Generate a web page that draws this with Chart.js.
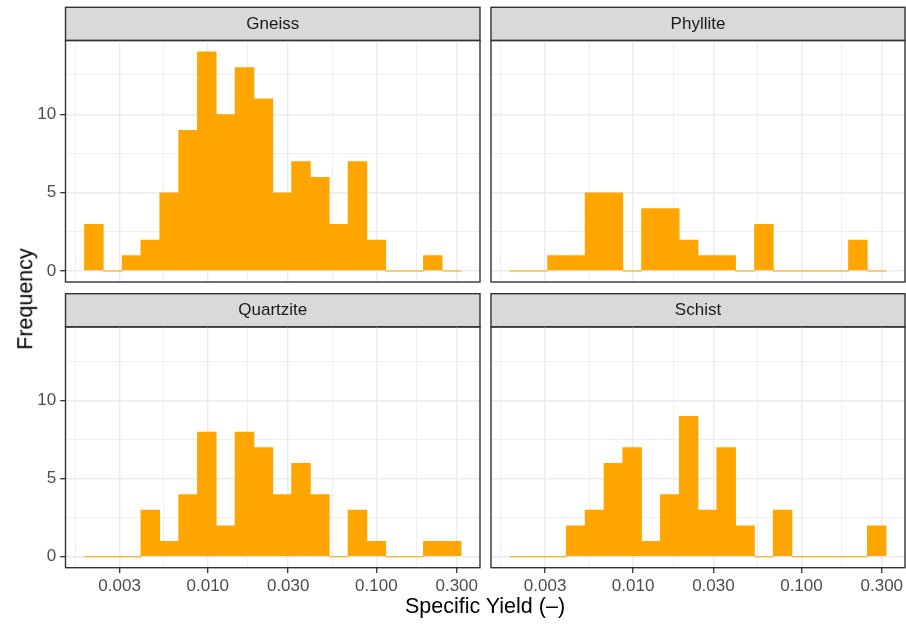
<!DOCTYPE html>
<html>
<head>
<meta charset="utf-8">
<script src="https://cdn.jsdelivr.net/npm/chart.js@4.4.1/dist/chart.umd.min.js"></script>
<style>
  body { margin: 0; width: 906px; height: 624px; position: relative; overflow: hidden; background: #fff;
         font-family: 'Liberation Sans', Arial, sans-serif; }
  canvas { position: absolute; }
  .ttl { position: absolute; color: #000; font-size: 21.5px; line-height: 1; white-space: nowrap; }
  #xTitle { left: 485px; top: 595.6px; transform: translate(-50%, 0); }
  #yTitle { left: 26px; top: 299px; transform: translate(-50%, -50%) rotate(-90deg); }
</style>
</head>
<body>
<canvas id="cGneiss" width="486" height="288" style="left:0;top:0"></canvas>
<canvas id="cPhyllite" width="420" height="288" style="left:486px;top:0"></canvas>
<canvas id="cQuartzite" width="486" height="337" style="left:0;top:287px"></canvas>
<canvas id="cSchist" width="420" height="337" style="left:486px;top:287px"></canvas>
<div class="ttl" id="xTitle">Specific Yield (–)</div>
<div class="ttl" id="yTitle">Frequency</div>

<script>
// ── Data (bin centres in specific yield, counts per facet) ────
const binCenters = [0.00211, 0.00273, 0.00353, 0.00456, 0.00590, 0.00764, 0.00987, 0.01276, 0.01652, 0.02138,
                    0.02761, 0.03573, 0.04624, 0.05984, 0.07727, 0.1000, 0.1294, 0.1675, 0.2163, 0.2799];
const gneiss    = [3, 0, 1, 2, 5, 9, 14, 10, 13, 11, 5, 7, 6, 3, 7, 2, 0, 0, 1, 0];
const phyllite  = [0, 0, 1, 1, 5, 5, 0, 4, 4, 2, 1, 1, 0, 3, 0, 0, 0, 0, 2, 0];
const quartzite = [0, 0, 0, 3, 1, 4, 8, 2, 8, 7, 4, 6, 4, 0, 3, 1, 0, 0, 1, 1];
const schist    = [0, 0, 0, 2, 3, 6, 7, 1, 4, 9, 3, 7, 2, 0, 3, 0, 0, 0, 0, 2];

const xTicks = [0.003, 0.01, 0.03, 0.1, 0.3];
const xMinor = [0.00164, 0.00548, 0.0173, 0.0548, 0.173];
const yTicks = [0, 5, 10];
const yMinor = [2.5, 7.5, 12.5];

const X_MIN = 0.001432, X_MAX = 0.4121;
const Y_MIN = -0.7, Y_MAX = 14.7;

const ORANGE = '#FFA500';
const GRID = '#ebebeb';
const INK = '#333333';

Chart.defaults.font.family = "'Liberation Sans', Arial, sans-serif";

// ── Strip box + panel border ────
const facetPlugin = {
    id: 'facet',
    beforeDraw(chart) {
        const t = chart.titleBlock, a = chart.chartArea, ctx = chart.ctx;
        ctx.save();
        ctx.fillStyle = '#d9d9d9';
        ctx.fillRect(a.left, t.top, a.right - a.left, t.bottom - t.top);
        ctx.strokeStyle = INK;
        ctx.lineWidth = 1.4;
        ctx.strokeRect(a.left, t.top, a.right - a.left, t.bottom - t.top);
        ctx.restore();
    },
    afterDraw(chart) {
        const a = chart.chartArea, ctx = chart.ctx;
        ctx.save();
        ctx.strokeStyle = INK;
        ctx.lineWidth = 1.4;
        ctx.strokeRect(a.left, a.top, a.right - a.left, a.bottom - a.top);
        ctx.restore();
    }
};

function withMinor(major, minor) {
    return major.map(v => ({ value: v, minor: false }))
        .concat(minor.map(v => ({ value: v, minor: true })))
        .sort((p, q) => p.value - q.value);
}

const noPad = s => { s.paddingLeft = 0; s.paddingRight = 0; s.paddingTop = 0; s.paddingBottom = 0; };

function panel(id, name, counts, showX, showY, padding) {
    return new Chart(document.getElementById(id), {
        type: 'bar',
        data: {
            datasets: [{
                data: binCenters.map((c, i) => ({ x: c, y: counts[i] })),
                backgroundColor: ORANGE,
                borderWidth: 0,
                barPercentage: 1.04,
                categoryPercentage: 1,
                minBarLength: 1,
            }]
        },
        options: {
            responsive: false,
            animation: false,
            layout: { padding },
            plugins: {
                legend: { display: false },
                tooltip: { enabled: false },
                title: {
                    display: true, text: name, fullSize: false,
                    color: '#1a1a1a', font: { size: 17, weight: 'normal' },
                    padding: { top: 6.4, bottom: 6.4 }
                }
            },
            scales: {
                x: {
                    type: 'logarithmic', min: X_MIN, max: X_MAX, offset: false,
                    afterBuildTicks: s => { s.ticks = withMinor(xTicks, xMinor); },
                    afterFit: s => { s.height = showX ? 56.3 : 0; noPad(s); },
                    border: { display: false },
                    grid: {
                        offset: false,
                        color: GRID,
                        lineWidth: c => (c.tick && c.tick.minor ? 0.8 : 1.4),
                        drawTicks: showX, tickLength: 5.3, tickWidth: 1.3,
                        tickColor: c => (c.tick && c.tick.minor ? 'rgba(0,0,0,0)' : INK)
                    },
                    ticks: {
                        display: showX, autoSkip: false, maxRotation: 0, padding: 3,
                        color: '#4d4d4d', font: { size: 17 },
                        callback: (v, i, t) => (t[i].minor ? '' : v.toFixed(3))
                    }
                },
                y: {
                    type: 'linear', min: Y_MIN, max: Y_MAX,
                    afterBuildTicks: s => { s.ticks = withMinor(yTicks, yMinor); },
                    afterFit: s => { s.width = showY ? 65.5 : 5; noPad(s); },
                    border: { display: false },
                    grid: {
                        color: GRID,
                        lineWidth: c => (c.tick && c.tick.minor ? 0.8 : 1.4),
                        drawTicks: showY, tickLength: 5.3, tickWidth: 1.3,
                        tickColor: c => (c.tick && c.tick.minor ? 'rgba(0,0,0,0)' : INK)
                    },
                    ticks: {
                        display: showY, autoSkip: false, padding: 4,
                        color: '#4d4d4d', font: { size: 17 },
                        callback: (v, i, t) => (t[i].minor ? '' : String(v))
                    }
                }
            }
        },
        plugins: [facetPlugin]
    });
}

// ── Init ───
panel('cGneiss', 'Gneiss', gneiss, false, true, { top: 7.3, right: 6, bottom: 6, left: 0 });
panel('cPhyllite', 'Phyllite', phyllite, false, false, { top: 7.3, right: 1, bottom: 6, left: 0 });
panel('cQuartzite', 'Quartzite', quartzite, true, true, { top: 6.7, right: 6, bottom: 0, left: 0 });
panel('cSchist', 'Schist', schist, true, false, { top: 6.7, right: 1, bottom: 0, left: 0 });
</script>
</body>
</html>
